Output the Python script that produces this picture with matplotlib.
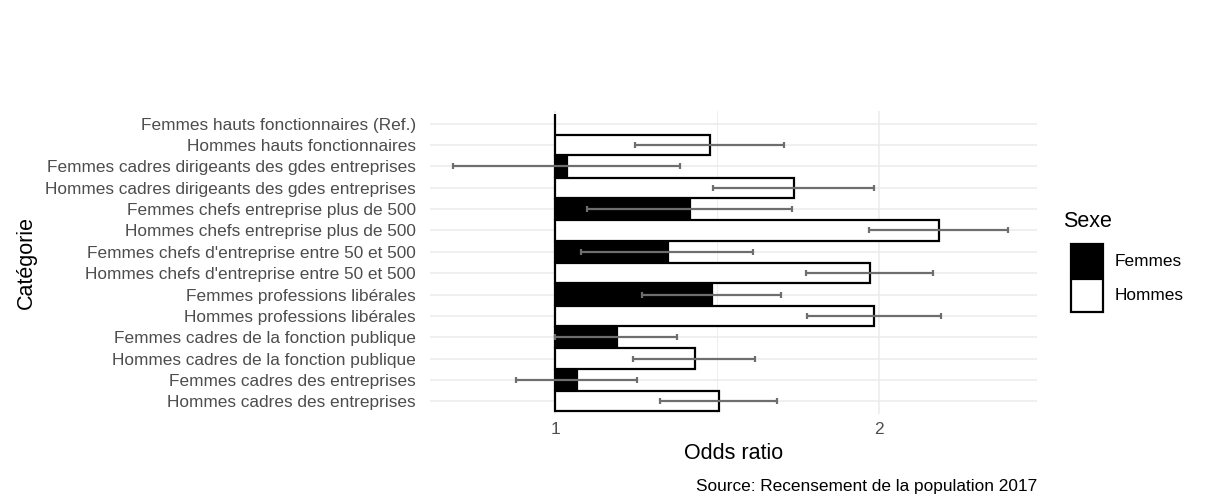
import matplotlib.pyplot as plt
from matplotlib.patches import Rectangle

plt.rcParams['font.family'] = ['Liberation Sans', 'DejaVu Sans']

# categories from top to bottom
categories = [
    "Femmes hauts fonctionnaires (Ref.)",
    "Hommes hauts fonctionnaires",
    "Femmes cadres dirigeants des gdes entreprises",
    "Hommes cadres dirigeants des gdes entreprises",
    "Femmes chefs entreprise plus de 500",
    "Hommes chefs entreprise plus de 500",
    "Femmes chefs d'entreprise entre 50 et 500",
    "Hommes chefs d'entreprise entre 50 et 500",
    "Femmes professions libérales",
    "Hommes professions libérales",
    "Femmes cadres de la fonction publique",
    "Hommes cadres de la fonction publique",
    "Femmes cadres des entreprises",
    "Hommes cadres des entreprises",
]
sexe = ["Femmes", "Hommes"] * 7
odds = [1.0, 1.479, 1.038, 1.737, 1.418, 2.185, 1.348,
        1.972, 1.484, 1.986, 1.192, 1.431, 1.068, 1.506]
ci_low = [None, 1.247, 0.686, 1.488, 1.099, 1.969, 1.079,
          1.775, 1.267, 1.779, 1.0, 1.241, 0.879, 1.325]
ci_high = [None, 1.708, 1.386, 1.984, 1.731, 2.398, 1.612,
           2.166, 1.697, 2.192, 1.377, 1.617, 1.252, 1.685]

colors = {"Femmes": "black", "Hommes": "white"}

W, H = 1212, 496
fig = plt.figure(figsize=(W / 100, H / 100), dpi=100)
ax = fig.add_axes([430 / W, 1 - 414 / H, 607 / W, 303 / H])

n = len(categories)
ypos = [n - 1 - i for i in range(n)]

for y in ypos:
    ax.axhline(y, color="#EBEBEB", lw=1.1, zorder=0)
for x in [1, 2]:
    ax.axvline(x, color="#EBEBEB", lw=1.1, zorder=0)
ax.axvline(1.5, color="#EBEBEB", lw=0.6, zorder=0)

for y, v, s in zip(ypos, odds, sexe):
    ax.barh(y, v - 1, left=1, height=0.95, color=colors[s],
            edgecolor="black", linewidth=1.6, zorder=2)

for y, lo, hi in zip(ypos, ci_low, ci_high):
    if lo is None:
        continue
    mid = (lo + hi) / 2
    ax.errorbar(mid, y, xerr=[[mid - lo], [hi - mid]],
                fmt="none", ecolor="#6E6E6E", elinewidth=1.6, capsize=2,
                capthick=1.6, zorder=3)

ax.set_xlim(0.614, 2.488)
ax.set_ylim(-0.6, n - 0.4)
ax.set_yticks(ypos)
ax.set_yticklabels(categories, fontsize=12.4, color="#4D4D4D")
ax.set_xticks([1, 2])
ax.set_xticklabels(["1", "2"], fontsize=12.4, color="#4D4D4D")
ax.tick_params(length=0)
ax.tick_params(axis="y", pad=10)
ax.tick_params(axis="x", pad=6)
for sp in ax.spines.values():
    sp.set_visible(False)

ax.set_xlabel("Odds ratio", fontsize=15.5, labelpad=4)
ax.set_ylabel("Catégorie", fontsize=15.5)
ax.yaxis.set_label_coords((37 - 430) / 607, 0.5)

fig.text(1037 / W, 1 - 487 / H, "Source: Recensement de la population 2017",
         ha="right", va="center", fontsize=12.4)

# legend drawn by hand in figure pixel coordinates
fig.text(1063 / W, 1 - 222 / H, "Sexe", ha="left", va="center", fontsize=15.5)
for i, lab in enumerate(sexe[:2]):
    top = 244 + i * 35
    fig.patches.append(Rectangle((1071 / W, 1 - (top + 33) / H), 32 / W, 33 / H,
                                 transform=fig.transFigure, facecolor=colors[lab],
                                 edgecolor="black", lw=1.6))
    fig.text(1115 / W, 1 - (top + 17) / H, lab, ha="left", va="center",
             fontsize=12.4)

fig.savefig("out.png", dpi=100)
